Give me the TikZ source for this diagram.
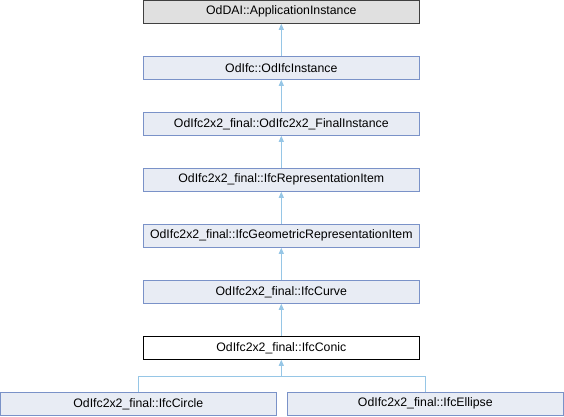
\documentclass[tikz,border=0pt]{standalone}
\usepackage{fontspec}
\setmainfont{Liberation Sans}
\usetikzlibrary{arrows.meta}
\definecolor{edgec}{RGB}{150,198,230}
\definecolor{boxfill}{RGB}{232,236,244}
\definecolor{boxdraw}{RGB}{122,146,200}
\definecolor{topfill}{RGB}{224,224,224}
\tikzset{
  cls/.style={draw=boxdraw, fill=boxfill, line width=0.9pt, minimum width=276pt, minimum height=23pt, inner sep=0pt, font=\fontsize{12.3}{14}\selectfont},
  topcls/.style={cls, draw=black!75, fill=topfill},
  curcls/.style={cls, draw=black, fill=white},
  inh/.style={draw=edgec, line width=0.9pt, -{Triangle[width=5pt,length=6pt,fill=edgec]}}
}
\begin{document}
\begin{tikzpicture}[x=1pt,y=-1pt]
\useasboundingbox (0,0) rectangle (564,416);
\node[topcls] (n0) at (281.3,11.8) {OdDAI::ApplicationInstance};
\node[cls] (n1) at (281.3,67.8) {OdIfc::OdIfcInstance};
\node[cls] (n2) at (281.3,123.8) {OdIfc2x2\_final::OdIfc2x2\_FinalInstance};
\node[cls] (n3) at (281.3,179.8) {OdIfc2x2\_final::IfcRepresentationItem};
\node[cls] (n4) at (281.3,235.8) {OdIfc2x2\_final::IfcGeometricRepresentationItem};
\node[cls] (n5) at (281.3,291.8) {OdIfc2x2\_final::IfcCurve};
\node[curcls] (n6) at (281.3,347.8) {OdIfc2x2\_final::IfcConic};
\node[cls] (n7) at (138.3,403.8) {OdIfc2x2\_final::IfcCircle};
\node[cls] (n8) at (425.3,403.8) {OdIfc2x2\_final::IfcEllipse};
\draw[inh] (n1) -- (n0);
\draw[inh] (n2) -- (n1);
\draw[inh] (n3) -- (n2);
\draw[inh] (n4) -- (n3);
\draw[inh] (n5) -- (n4);
\draw[inh] (n6) -- (n5);
\coordinate (j) at (281.3,376);
\draw[inh] (n7.north) -- (n7.north |- j) -- (j) -- (n6.south);
\draw[draw=edgec, line width=0.9pt] (n8.north) -- (n8.north |- j) -- (j);
\end{tikzpicture}
\end{document}
